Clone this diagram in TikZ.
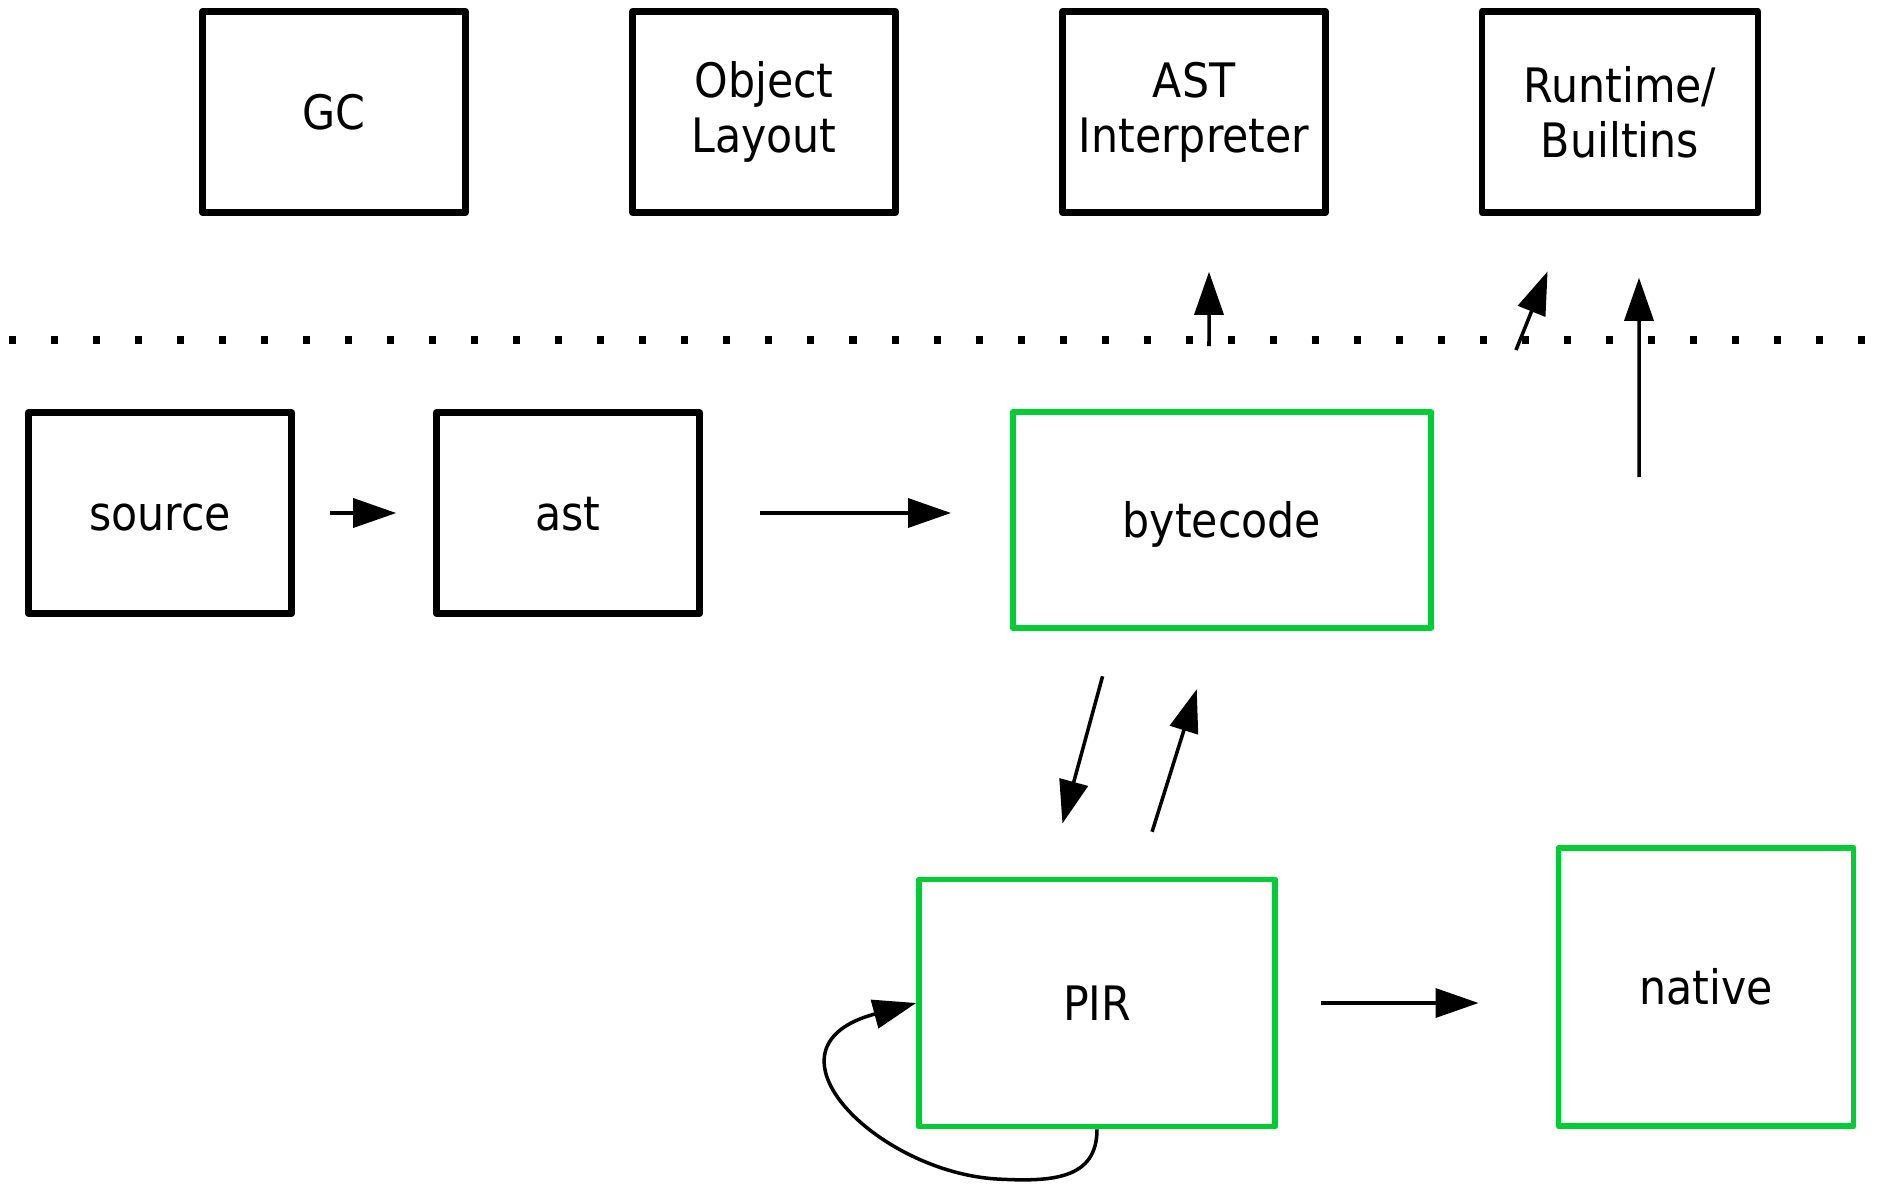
\documentclass[tikz,border=0pt]{standalone}
\usepackage{fontspec}
\setmainfont{DejaVu Sans Condensed}
\usetikzlibrary{arrows.meta}
\definecolor{jitgreen}{RGB}{0,204,51}

\begin{document}
\begin{tikzpicture}[x=0.01cm,y=0.01cm,
  font=\fontsize{13.5}{15.6}\selectfont,
  box/.style={draw,line width=1.8pt,line join=round,align=center,inner sep=0pt,
    minimum width=2.63cm,minimum height=2.01cm},
  oneline/.style={text height=10.2pt,text depth=0pt},
  jit/.style={box,oneline,draw=jitgreen,line width=1.6pt},
  arr/.style={line width=1pt,-{Triangle[length=0.43cm,width=0.29cm]}}]
  \useasboundingbox (0,0) rectangle (1884,-1184);
  % runtime parts
  \node[box,oneline] (gc) at (334,-112) {GC};
  \node[box] (layout) at (764,-112) {Object\\Layout};
  \node[box] (astint) at (1194,-112) {AST\\Interpreter};
  \node[box,minimum width=2.76cm] (rt) at (1620,-112) {Runtime/\\Builtins};
  % boundary line
  \draw[line width=2pt,dash pattern=on 2pt off 9.95pt] (9,-340) -- (1876,-340);
  % pipeline
  \node[box,oneline] (src) at (160,-513) {source};
  \node[box,oneline] (ast) at (568,-513) {ast};
  \node[jit,minimum width=4.18cm,minimum height=2.16cm] (bc) at (1222,-520) {bytecode};
  \node[jit,minimum width=3.56cm,minimum height=2.47cm] (pir) at (1097,-1003) {PIR};
  \node[jit,minimum width=2.95cm,minimum height=2.78cm] (native) at (1706,-987) {native};
  \draw[arr,shorten <=0.35cm,shorten >=0.37cm] (src) -- (ast);
  \draw[arr,shorten <=0.57cm,shorten >=0.59cm] (ast) -- (ast -| bc.west);
  \draw[arr,shorten <=0.43cm,shorten >=0.77cm] (pir) -- (pir -| native.west);
  % bytecode <-> PIR
  \draw[arr,shorten <=0.47cm,shorten >=0.55cm] ([xshift=-1.07cm]bc.south) -- ([xshift=-0.49cm]pir.north);
  \draw[arr,shorten <=0.47cm,shorten >=0.61cm] ([xshift=0.41cm]pir.north) -- ([xshift=-0.07cm]bc.south);
  \draw[arr] (pir.south) .. controls +(0,-50) and +(55,-3) .. (997,-1179)
    .. controls +(-120,7) and +(-165,-44) .. (pir.west);
  % calls across the line
  \coordinate (rtcall) at (1516,-350);
  \coordinate (rtlink) at (1639,-477);
  \draw[arr,shorten <=0.63cm,shorten >=0.56cm] ([xshift=-0.13cm]bc.north) -- ([xshift=0.15cm]astint.south);
  \draw[arr,shorten >=0.6cm] (rtcall) -- ([xshift=-0.5cm]rt.south);
  \draw[arr,shorten >=0.62cm] (rtlink) -- ([xshift=0.19cm]rt.south);
\end{tikzpicture}
\end{document}
